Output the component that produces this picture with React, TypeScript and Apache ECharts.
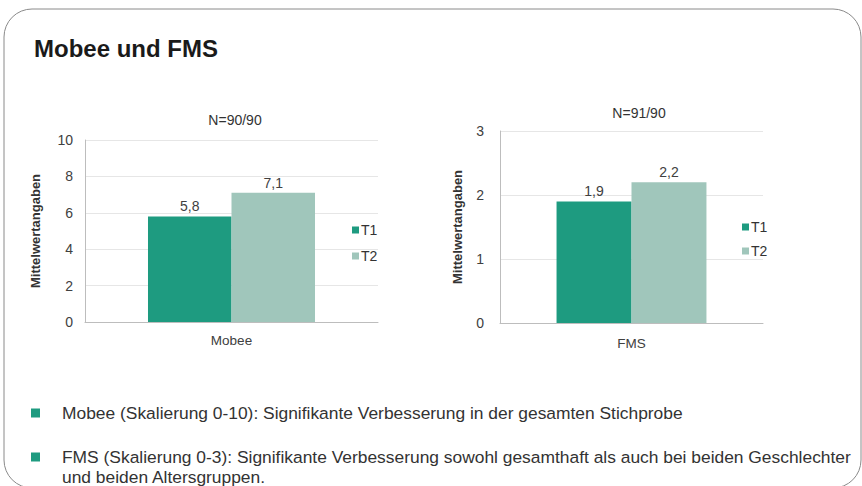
import React, { useEffect, useRef } from "react";
import * as echarts from "echarts";

const heading = "Mobee und FMS";
const seriesNames = ["T1", "T2"];
const colors = ["#1E9B80", "#A0C6BB"];
const yAxisName = "Mittelwertangaben";

const mobeeCategories = ["Mobee"];
const mobeeT1 = [5.8];
const mobeeT2 = [7.1];
const mobeeTitle = "N=90/90";
const mobeeMax = 10;
const mobeeInterval = 2;

const fmsCategories = ["FMS"];
const fmsT1 = [1.9];
const fmsT2 = [2.2];
const fmsTitle = "N=91/90";
const fmsMax = 3;
const fmsInterval = 1;

const bullets = [
  ["Mobee (Skalierung 0-10): Signifikante Verbesserung in der gesamten Stichprobe"],
  [
    "FMS (Skalierung 0-3): Signifikante Verbesserung sowohl gesamthaft als auch bei beiden Geschlechter",
    "und beiden Altersgruppen.",
  ],
];

const FONT = "'Liberation Sans', Arial, sans-serif";

export default function App() {
  const ref = useRef<HTMLDivElement>(null);

  useEffect(() => {
    if (!ref.current) return;
    const chart = echarts.init(ref.current, null, { renderer: "svg" });

    const grids = [
      { left: 85, top: 140, width: 293, height: 182 },
      { left: 500, top: 131, width: 263, height: 192 },
    ];

    const xAxisCommon = {
      type: "category" as const,
      axisLine: { show: true, lineStyle: { color: "#BDBDBD", width: 1 } },
      axisTick: { show: false },
      axisLabel: { color: "#404040", fontSize: 13.5, fontFamily: FONT, margin: 11 },
    };
    const yAxisCommon = {
      type: "value" as const,
      min: 0,
      nameLocation: "middle" as const,
      name: yAxisName,
      nameTextStyle: { color: "#333", fontSize: 13, fontWeight: "bold" as const, fontFamily: FONT },
      axisLine: { show: true, lineStyle: { color: "#BDBDBD", width: 1 } },
      axisTick: { show: false },
      splitLine: { show: true, lineStyle: { color: "#E6E6E6", width: 1 } },
      axisLabel: { color: "#404040", fontSize: 14, fontFamily: FONT, margin: 12 },
    };

    const labelCfg = {
      show: true,
      position: "top" as const,
      color: "#404040",
      fontSize: 14,
      fontFamily: FONT,
      distance: 3,
      formatter: (p: any) => String(p.value).replace(".", ","),
    };

    const mkSeries = (data: number[], idx: number, axis: number, name: string) => ({
      type: "bar" as const,
      name,
      data,
      xAxisIndex: axis,
      yAxisIndex: axis,
      barGap: "0%",
      barCategoryGap: "43%",
      itemStyle: { color: colors[idx] },
      label: labelCfg,
    });

    const bulletGraphics: any[] = [];
    const bulletY = [413, 457];
    bullets.forEach((lines, i) => {
      bulletGraphics.push({
        type: "rect",
        shape: { x: 31, y: bulletY[i] - 4.5, width: 9, height: 9 },
        style: { fill: "#1E9B80" },
      });
      lines.forEach((line, j) => {
        bulletGraphics.push({
          type: "text",
          x: 62,
          y: bulletY[i] + j * 20,
          style: {
            text: line,
            fill: "#333",
            font: `17.4px ${FONT}`,
            verticalAlign: "middle",
            textAlign: "left",
          },
        });
      });
    });

    const titleStyle = { color: "#333", fontSize: 14, fontWeight: "normal" as const, fontFamily: FONT };
    const legendCommon = {
      orient: "vertical" as const,
      data: seriesNames,
      icon: "rect",
      itemWidth: 7,
      itemHeight: 7,
      padding: 0,
      textStyle: { color: "#333", fontSize: 14, fontFamily: FONT, padding: [0, 0, 0, -3] },
      selectedMode: false,
    };

    chart.setOption({
      animation: false,
      backgroundColor: "#FFFFFF",
      title: [
        { text: mobeeTitle, left: 230, top: 108, textAlign: "center", textStyle: titleStyle },
        { text: fmsTitle, left: 634, top: 101, textAlign: "center", textStyle: titleStyle },
      ],
      legend: [
        { ...legendCommon, left: 352, top: 223, itemGap: 12 },
        { ...legendCommon, left: 742, top: 220, itemGap: 10 },
      ],
      grid: grids,
      xAxis: [
        { ...xAxisCommon, gridIndex: 0, data: mobeeCategories },
        { ...xAxisCommon, gridIndex: 1, data: fmsCategories, axisLabel: { ...xAxisCommon.axisLabel, margin: 13 } },
      ],
      yAxis: [
        { ...yAxisCommon, gridIndex: 0, max: mobeeMax, interval: mobeeInterval, nameGap: 43 },
        {
          ...yAxisCommon,
          gridIndex: 1,
          max: fmsMax,
          interval: fmsInterval,
          nameGap: 36,
          axisLabel: { ...yAxisCommon.axisLabel, margin: 16 },
        },
      ],
      series: [
        mkSeries(mobeeT1, 0, 0, seriesNames[0]),
        mkSeries(mobeeT2, 1, 0, seriesNames[1]),
        mkSeries(fmsT1, 0, 1, seriesNames[0]),
        mkSeries(fmsT2, 1, 1, seriesNames[1]),
      ],
      graphic: [
        {
          type: "rect",
          shape: { x: 4, y: 9, width: 857, height: 479, r: 28 },
          style: { fill: "none", stroke: "#8A8A8A", lineWidth: 1 },
          silent: true,
        },
        {
          type: "text",
          x: 34,
          y: 48,
          style: {
            text: heading,
            fill: "#1A1A1A",
            font: `bold 24px ${FONT}`,
            verticalAlign: "middle",
            textAlign: "left",
          },
        },
        ...bulletGraphics,
      ],
    });

    return () => chart.dispose();
  }, []);

  return (
    <div
      ref={ref}
      style={{ position: "fixed", left: 0, top: 0, width: 862, height: 486 }}
    />
  );
}
